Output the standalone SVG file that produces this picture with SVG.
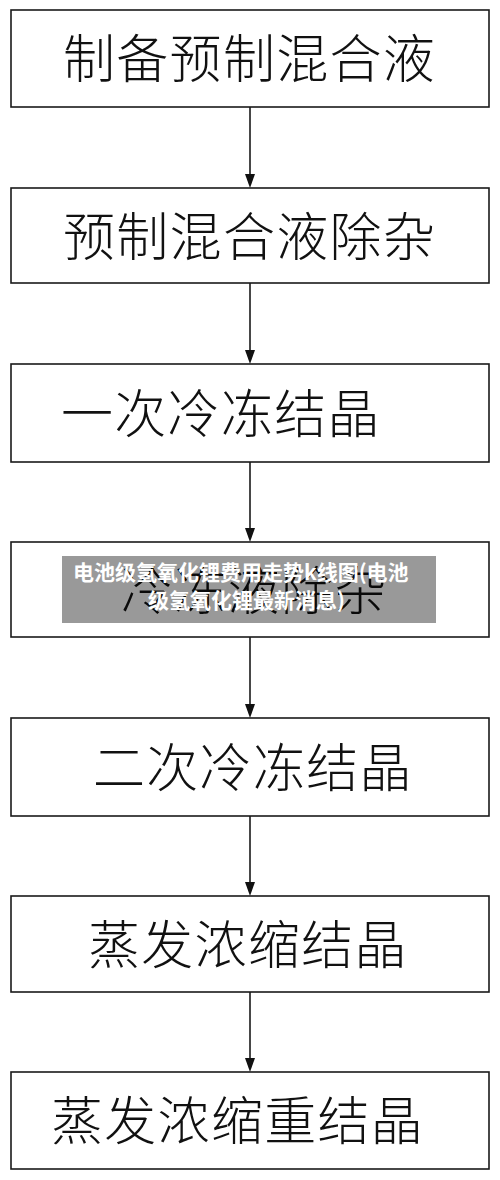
<svg xmlns="http://www.w3.org/2000/svg" width="500" height="1180" viewBox="0 0 500 1180">
<style>
.box{fill:#fff;stroke:#1a1a1a;stroke-width:1.6}
.lbl{font-family:"Noto Sans CJK SC","Noto Sans CJK JP",sans-serif;font-size:52px;fill:#111;font-weight:300;letter-spacing:1.3px}
.conn{stroke:#1a1a1a;stroke-width:1.6;fill:none}
.head{fill:#111}
.ov{font-family:"Noto Sans CJK SC","Noto Sans CJK JP",sans-serif;font-size:21px;font-weight:bold;fill:#fff}
</style>
<rect width="500" height="1180" fill="#fff"/>
<g id="connectors">
<path class="conn" d="M250,107 L250,174"/><path class="head" d="M245,174 L255,174 L250,188 Z"/>
<path class="conn" d="M250,283 L250,350"/><path class="head" d="M245,350 L255,350 L250,364 Z"/>
<path class="conn" d="M250,462 L250,528"/><path class="head" d="M245,528 L255,528 L250,542 Z"/>
<path class="conn" d="M250,637 L250,704"/><path class="head" d="M245,704 L255,704 L250,718 Z"/>
<path class="conn" d="M250,816 L250,882"/><path class="head" d="M245,882 L255,882 L250,896 Z"/>
<path class="conn" d="M250,992 L250,1058"/><path class="head" d="M245,1058 L255,1058 L250,1072 Z"/>
</g>
<g id="n1"><rect class="box" x="11" y="10" width="478" height="97"/><text class="lbl" x="63" y="78">制备预制混合液</text></g>
<g id="n2"><rect class="box" x="11" y="188" width="478" height="95"/><text class="lbl" x="63" y="256">预制混合液除杂</text></g>
<g id="n3"><rect class="box" x="11" y="364" width="478" height="98"/><text class="lbl" x="61" y="433">一次冷冻结晶</text></g>
<g id="n4"><rect class="box" x="11" y="542" width="478" height="95"/><text class="lbl" x="121" y="610">冷冻液除杂</text></g>
<g id="n5"><rect class="box" x="11" y="718" width="478" height="98"/><text class="lbl" x="93" y="787">二次冷冻结晶</text></g>
<g id="n6"><rect class="box" x="11" y="896" width="478" height="96"/><text class="lbl" x="88" y="964">蒸发浓缩结晶</text></g>
<g id="n7"><rect class="box" x="11" y="1072" width="478" height="97"/><text class="lbl" x="51" y="1140">蒸发浓缩重结晶</text></g>
<g id="overlay">
<rect x="62" y="556" width="374" height="67" fill="#000" fill-opacity="0.4"/>
<text class="ov" x="73" y="580">电池级氢氧化锂费用走势k线图(电池</text>
<text class="ov" x="148" y="608">级氢氧化锂最新消息)</text>
</g>
</svg>
